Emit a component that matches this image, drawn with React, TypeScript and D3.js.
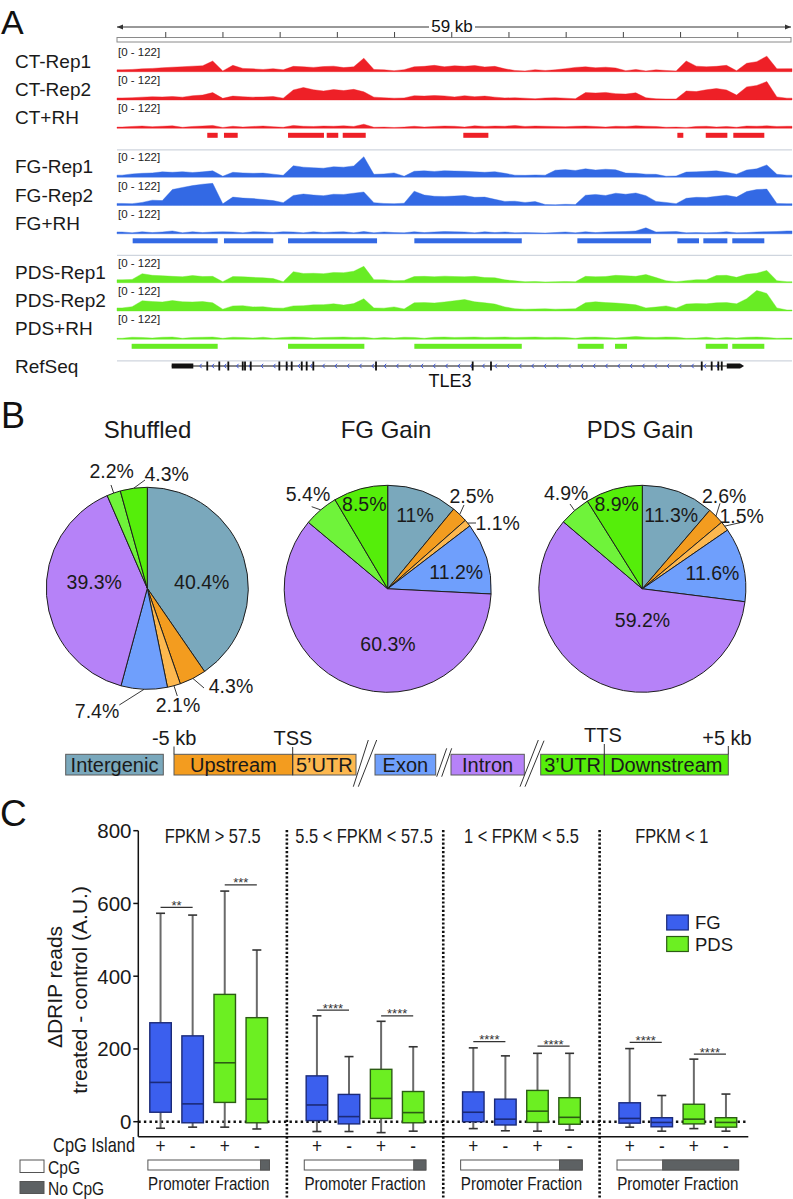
import React from "react";
import * as d3 from "d3";

const SANS = "'Liberation Sans', Arial, Helvetica, sans-serif";
const NARROW_SCALE = 0.82;

// ---------------- Panel A data ----------------
const REGION_KB = 59;
const TRACK_MAX = 122;

const ctRep1 = [9,11,14,16,19,22,24,27,29,52, 4,31,16,14,11,15,9,26,24,21, 25,27,20,24,66,11,9,5,10,24, 26,31,24,29,26,30,23,26,14,6, 4,10,6,9,15,21,24,19,22,18, 5,11,4,9,6,4,52,27,24,26, 31,5,41,49,76,14,15];
const ctRep2 = [10,11,14,16,15,17,14,21,24,36, 8,19,16,14,15,17,9,49,61,50, 44,51,46,52,40,14,11,9,10,21, 19,22,20,15,21,16,19,14,10,11, 9,6,10,11,9,6,36,34,37,31, 29,35,11,6,5,5,44,41,50,56, 49,24,64,71,90,15,9];
const ctRH = [6,9,11,8,10,12,5,9,11,14, 4,10,6,9,11,8,5,14,10,9, 11,10,12,9,20,5,6,4,6,10, 6,9,11,10,6,12,9,11,10,14, 9,11,10,9,8,10,11,9,6,10, 9,12,10,9,5,6,4,9,10,6, 9,5,11,10,12,9,10];
const fgRep1 = [10,16,19,21,26,24,27,23,26,31, 5,24,21,19,20,15,9,56,49,46, 44,51,49,55,100,14,16,21,5,29, 31,28,32,30,29,26,24,27,19,10, 9,11,10,34,37,33,41,35,39,36, 20,19,15,14,5,6,25,26,29,31, 24,15,35,41,60,14,10];
const fgRep2 = [10,9,15,26,24,78,88,97,104,108, 8,41,36,34,29,24,14,49,56,51, 48,55,54,60,66,14,10,9,11,70, 51,45,44,46,49,40,41,30,20,21, 15,19,5,4,6,5,50,54,49,60, 55,61,48,20,15,9,35,40,39,45, 50,41,68,78,80,10,9];
const fgRH = [9,5,10,6,9,14,5,10,6,9, 10,9,5,10,9,6,10,9,5,10, 6,9,10,5,11,5,9,6,5,10, 6,9,11,10,9,5,10,6,9,5, 6,5,4,6,9,5,10,6,9,10, 11,14,29,9,10,11,5,6,5,6, 10,5,6,9,10,11,14];
const pdsRep1 = [14,16,44,36,34,31,29,35,30,31, 5,30,29,26,24,20,5,54,45,46, 44,50,49,56,80,15,14,10,11,30, 31,29,32,30,29,31,25,24,14,9, 5,6,4,5,6,5,31,29,30,36, 34,31,40,25,10,5,10,15,14,35, 36,26,41,46,60,10,5];
const pdsRep2 = [15,21,50,46,44,51,45,44,46,40, 9,25,26,20,21,15,14,25,26,30, 31,35,29,36,60,15,14,20,10,40, 41,39,44,50,56,45,40,34,20,11, 9,10,11,9,10,11,40,45,41,39, 35,30,15,19,25,14,34,36,35,40, 41,35,60,100,86,15,5];
const pdsRH = [5,10,9,6,10,11,5,9,10,11, 5,10,9,6,10,5,9,11,10,6, 9,10,11,9,10,5,9,6,10,9, 5,10,11,9,10,11,9,10,11,9, 10,11,9,10,9,5,10,11,9,6, 10,14,10,9,11,10,5,6,10,5, 9,6,10,11,9,5,6];

// called peak regions (kb from left edge of the 59 kb window)
const ctPeaks = [[7.89, 8.8], [9.35, 10.55], [14.95, 18.09], [18.33, 19.34], [19.73, 21.74], [30.27, 32.46], [48.98, 49.5], [51.46, 53.35], [53.87, 56.58]];
const fgPeaks = [[1.37, 8.8], [9.35, 13.66], [14.95, 22.73], [25.99, 35.38], [40.24, 46.68], [48.98, 50.87], [51.25, 53.35], [53.78, 56.58]];
const pdsPeaks = [[1.28, 8.8], [14.95, 21.62], [25.99, 35.38], [40.27, 42.54], [43.53, 44.58], [51.46, 53.39], [53.78, 56.58]];

// TLE3 gene model (kb)
const geneSpanKb = [4.78, 54.46];
const utrKb = [[4.78, 6.67], [53.3, 54.46]];
const exonKb = [7.89, 8.94, 9.73, 10.99, 11.19, 11.69, 14.19, 14.83, 15.27, 16.15, 16.58, 17.16, 22.64, 31.09, 32.69, 51.11, 51.98, 52.56, 52.86];

const groupColors = ["#ee2027", "#3369e4", "#68ec24"];
const trackLabels = [["CT-Rep1", "CT-Rep2", "CT+RH"], ["FG-Rep1", "FG-Rep2", "FG+RH"], ["PDS-Rep1", "PDS-Rep2", "PDS+RH"]];
const trackValues = [[ctRep1, ctRep2, ctRH], [fgRep1, fgRep2, fgRH], [pdsRep1, pdsRep2, pdsRH]];
const groupPeaks = [ctPeaks, fgPeaks, pdsPeaks];

// ---------------- Panel B data ----------------
const regionNames = ["Intergenic", "Upstream", "5\u2019UTR", "Exon", "Intron", "3\u2019UTR", "Downstream"];
const regionColors = ["#7aa8bc", "#f39c1f", "#fdb84f", "#6f9ffc", "#b682f8", "#6ff33a", "#55ee0a"];
const pieTitles = ["Shuffled", "FG Gain", "PDS Gain"];
const shuffledPct = [40.4, 4.3, 2.1, 7.4, 39.3, 2.2, 4.3];
const fgGainPct = [11, 2.5, 1.1, 11.2, 60.3, 5.4, 8.5];
const pdsGainPct = [11.3, 2.6, 1.5, 11.6, 59.2, 4.9, 8.9];

// ---------------- Panel C data ----------------
const fpkmGroups = ["FPKM > 57.5", "5.5 < FPKM < 57.5", "1 < FPKM < 5.5", "FPKM < 1"];
const boxKeys = ["FG+", "FG-", "PDS+", "PDS-"];
const boxSeries = ["FG", "FG", "PDS", "PDS"];
const cpgSign = ["+", "-", "+", "-"];
// [min, q1, median, q3, max]
const boxStats = [
  [[-18, 26, 108, 272, 573], [-15, -3, 49, 236, 568], [-15, 53, 162, 350, 634], [-20, -3, 62, 286, 472]],
  [[-27, 3, 46, 126, 291], [-27, -6, 14, 75, 179], [-30, 9, 64, 144, 276], [-26, -3, 25, 83, 206]],
  [[-19, 0, 26, 82, 203], [-25, -9, 7, 62, 181], [-26, -2, 29, 86, 188], [-23, -7, 12, 66, 188]],
  [[-15, -4, 9, 52, 201], [-26, -14, -2, 11, 72], [-19, -6, 7, 48, 172], [-26, -15, -2, 11, 76]],
];
// [label, bracket height] for FG+/FG- and PDS+/PDS-
const sigFG = [["**", 589], ["****", 307], ["****", 220], ["****", 218]];
const sigPDS = [["***", 651], ["****", 291], ["****", 208], ["****", 186]];
const cpgPromoterFraction = [0.926, 0.9, 0.813, 0.375];
const yTicks = [0, 200, 400, 600, 800];
const seriesNames = ["FG", "PDS"];
const seriesFill: Record<string, string> = { FG: "#3b5fee", PDS: "#6cef22" };
const seriesStroke: Record<string, string> = { FG: "#1b2a78", PDS: "#2c5c14" };

// ---------------- layout (not data) ----------------
const pieCenters = [[147.3, 588.3], [387.7, 588.8], [642.3, 588.8]];
const pieRadii = [101, 103.5, 103.5];
const pieTitleX = [147.5, 386, 640];
// label centre offsets [dx, dy] and optional leader end [lx, ly] relative to pie centre
const pieLabelLayout: number[][][] = [
  [[54.4, -6.3], [83.7, 97.2, 56.7, 99.7], [30.7, 116.7, 30, 107.7], [-50.3, 122.7, -28, 116.7], [-53.1, -6.3], [-35.6, -117.3, -36.3, -103.3], [19.4, -114.3, -2.3, -108.3]],
  [[27.3, -73.8], [84, -93.3, 76.3, -83.8], [110, -66.3, 88.3, -65.8], [68.6, -17.3], [0.3, 55.2], [-79.7, -94.8, -76, -82.1], [-23.4, -85.3]],
  [[28.9, -73.8], [81.9, -93.3, 77.7, -85.5], [99.4, -73.3, 97.7, -66.1], [70.2, -16.3], [0.2, 31.2], [-76.1, -96.3, -72.3, -84.8], [-25.6, -84.5]],
];
const legendBoxes = [[65.7, 163.3], [174, 292.7], [292.7, 356], [375, 435.7], [451, 524.3], [540.7, 604.3], [604.3, 728.3]];

// narrow (condensed) text, as in the GraphPad-style panel C
function NText(props: { x: number; y: number; size: number; anchor?: string; children: React.ReactNode }) {
  const { x, y, size, anchor, children } = props;
  return (
    <text transform={`translate(${x},${y}) scale(${NARROW_SCALE},1)`} fontSize={size} textAnchor={anchor || "start"} fill="#1a1a1a">
      {children}
    </text>
  );
}

export default function App() {
  const W = 793, H = 1199;

  // ===== Panel A =====
  const xA = d3.scaleLinear().domain([0, REGION_KB]).range([117, 792]);
  const hA = d3.scaleLinear().domain([0, TRACK_MAX]).range([0, 25]);
  const firstBase = 71.7, groupStep = 105.5, rowStep = 28.3;
  const aEls: React.ReactNode[] = [];

  trackValues.forEach((tracks, gi) => {
    const color = groupColors[gi];
    const gBase = firstBase + gi * groupStep;
    tracks.forEach((vals, ri) => {
      const base = gBase + ri * rowStep;
      const n = vals.length;
      const bw = REGION_KB / n;
      const pts: [number, number][] = vals.map((v, i) => [xA((i + 0.5) * bw), v]);
      pts.unshift([xA(0), vals[0]]);
      pts.push([xA(REGION_KB), vals[n - 1]]);
      const area = d3.area<[number, number]>().x(d => d[0]).y0(base).y1(d => base - hA(d[1]));
      aEls.push(<path key={`tr${gi}${ri}`} d={area(pts) || ""} fill={color} stroke={color} strokeWidth={0.4} />);
      aEls.push(<text key={`rl${gi}${ri}`} x={118} y={base - 16} fontSize={11.5} fill="#222">[0 - 122]</text>);
      aEls.push(<text key={`tl${gi}${ri}`} x={15} y={base - 4} fontSize={19} fill="#1a1a1a">{trackLabels[gi][ri]}</text>);
    });
    const lastBase = gBase + 2 * rowStep;
    groupPeaks[gi].forEach(([s, e], k) => {
      aEls.push(<rect key={`pk${gi}${k}`} x={xA(s)} y={lastBase + 4.5} width={xA(e) - xA(s)} height={5} fill={color} />);
    });
    aEls.push(<line key={`sep${gi}`} x1={117} x2={792} y1={lastBase + 21.5} y2={lastBase + 21.5} stroke="#cfd5de" strokeWidth={1.2} />);
  });

  const geneY = 366;
  const chevrons = d3.range(xA(geneSpanKb[0]) + 28, xA(utrKb[1][0]) - 4, 12.3);

  // ===== Panel B =====
  const pieGen = d3.pie<number>().sort(null).value(d => d);
  const pieData = [shuffledPct, fgGainPct, pdsGainPct];

  // ===== Panel C =====
  const yC = d3.scaleLinear().domain([0, 800]).range([1121.7, 830.7]);
  const gBand = d3.scaleBand<string>().domain(fpkmGroups).range([130.5, 756]).padding(0);
  const innerBand = d3.scaleBand<string>().domain(boxKeys).range([-gBand.bandwidth() / 2 + 14, gBand.bandwidth() / 2 - 14]).padding(0);
  const boxW = 21.5;
  const gCenter = (g: string) => (gBand(g) as number) + gBand.bandwidth() / 2;
  const bx = (g: string, k: string) => gCenter(g) + (innerBand(k) as number) + innerBand.bandwidth() / 2;
  const axisLeft = 138.3, axisRight = 748.3, axisBottom = 1136.7;
  const titleNudge = [4, -1, 0, -6];

  return (
    <svg width={W} height={H} viewBox={`0 0 ${W} ${H}`} style={{ position: "absolute", left: 0, top: 0, background: "#fff" }} fontFamily={SANS}>
      <rect x={0} y={0} width={W} height={H} fill="#fff" />
      {/* ===== Panel A ===== */}
      <text x={1} y={34} fontSize={34} fill="#111">A</text>
      <line x1={xA(0)} x2={xA(REGION_KB) - 1} y1={27} y2={27} stroke="#333" strokeWidth={1} />
      <path d={`M${xA(0)},27 l6,-2.5 l0,5 z`} fill="#333" />
      <path d={`M${xA(REGION_KB) - 1},27 l-6,-2.5 l0,5 z`} fill="#333" />
      <rect x={429} y={17} width={46} height={17} fill="#fff" />
      <text x={452} y={32} fontSize={17} textAnchor="middle" fill="#111">59 kb</text>
      <rect x={xA(0)} y={37.5} width={xA(REGION_KB) - xA(0) - 1} height={4.5} fill="#fff" stroke="#8a8a8a" strokeWidth={1} />
      {d3.range(4.26, REGION_KB, 5).map((k, i) => (
        <line key={`rt${i}`} x1={xA(k)} x2={xA(k)} y1={32} y2={37.5} stroke="#444" strokeWidth={1} />
      ))}
      {aEls}
      <text x={15} y={373} fontSize={19} fill="#1a1a1a">RefSeq</text>
      <line x1={xA(geneSpanKb[0])} x2={xA(geneSpanKb[1])} y1={geneY} y2={geneY} stroke="#111" strokeWidth={1} />
      {chevrons.map((cx, i) => (
        <path key={`ch${i}`} d={`M${cx + 2},${geneY - 2.2} L${cx},${geneY} L${cx + 2},${geneY + 2.2}`} fill="none" stroke="#3a55d8" strokeWidth={1} />
      ))}
      {utrKb.map(([s, e], i) => (
        <rect key={`utr${i}`} x={xA(s)} y={geneY - 2.5} width={xA(e) - xA(s)} height={5} fill="#111" />
      ))}
      {exonKb.map((k, i) => (
        <rect key={`ex${i}`} x={xA(k) - 0.9} y={geneY - 4.5} width={1.8} height={9} fill="#111" />
      ))}
      <path d={`M${xA(geneSpanKb[1])},${geneY - 2.5} l4,2.5 l-4,2.5 z`} fill="#111" />
      <text x={450} y={387} fontSize={18} textAnchor="middle" fill="#111">TLE3</text>

      {/* ===== Panel B ===== */}
      <text x={1} y={428} fontSize={36} fill="#111">B</text>
      {pieData.map((vals, p) => {
        const [cx, cy] = pieCenters[p];
        const r = pieRadii[p];
        const arcs = pieGen(vals);
        const arcGen = d3.arc<d3.PieArcDatum<number>>().innerRadius(0).outerRadius(r);
        return (
          <g key={`pie${p}`}>
            <text x={pieTitleX[p]} y={438} fontSize={24} textAnchor="middle" fill="#1a1a1a">{pieTitles[p]}</text>
            <g transform={`translate(${cx},${cy})`}>
              {arcs.map((a, i) => (
                <path key={i} d={arcGen(a) || ""} fill={regionColors[i]} stroke="#1e1e1e" strokeWidth={1} />
              ))}
              {arcs.map((a, i) => {
                const lay = pieLabelLayout[p][i];
                const m = (a.startAngle + a.endAngle) / 2;
                return (
                  <g key={`l${i}`}>
                    {lay.length > 2 && (
                      <line x1={r * Math.sin(m)} y1={-r * Math.cos(m)} x2={lay[2]} y2={lay[3]} stroke="#222" strokeWidth={0.9} />
                    )}
                    <text x={lay[0]} y={lay[1]} dy="0.36em" fontSize={19.5} textAnchor="middle" fill="#1a1a1a">{`${vals[i]}%`}</text>
                  </g>
                );
              })}
            </g>
          </g>
        );
      })}
      {/* region legend */}
      {legendBoxes.map(([x0, x1], i) => (
        <g key={`lg${i}`}>
          <rect x={x0} y={754.3} width={x1 - x0} height={20.7} fill={i >= 5 ? regionColors[6] : regionColors[i]} stroke="#5a5a5a" strokeWidth={1} />
          <text x={(x0 + x1) / 2} y={771.5} fontSize={20} textAnchor="middle" fill="#1a1a1a">{regionNames[i]}</text>
        </g>
      ))}
      <line x1={174} x2={174} y1={746.5} y2={754.3} stroke="#333" strokeWidth={1} />
      <text x={174.2} y={745} fontSize={20} textAnchor="middle" fill="#1a1a1a">-5 kb</text>
      <line x1={292.7} x2={292.7} y1={747} y2={775} stroke="#333" strokeWidth={1} />
      <text x={293} y={745} fontSize={20} textAnchor="middle" fill="#1a1a1a">TSS</text>
      <line x1={604.3} x2={604.3} y1={744} y2={775} stroke="#333" strokeWidth={1} />
      <text x={603} y={742} fontSize={20} textAnchor="middle" fill="#1a1a1a">TTS</text>
      <line x1={728.3} x2={728.3} y1={746} y2={754.3} stroke="#333" strokeWidth={1} />
      <text x={727} y={745} fontSize={20} textAnchor="middle" fill="#1a1a1a">+5 kb</text>
      {[[353.3, 786.7, 368.3, 740], [358.3, 786.7, 376.7, 740], [436.7, 776.7, 446.7, 748.3], [441.7, 776.7, 451.7, 748.3], [520, 786.7, 538.3, 740], [525, 786.7, 544, 740.7]].map((l, i) => (
        <line key={`br${i}`} x1={l[0]} y1={l[1]} x2={l[2]} y2={l[3]} stroke="#333" strokeWidth={1} />
      ))}

      {/* ===== Panel C ===== */}
      <text x={0} y={826} fontSize={37} fill="#111">C</text>
      {/* axes */}
      <line x1={axisLeft} x2={axisLeft} y1={yC(800)} y2={axisBottom} stroke="#111" strokeWidth={1.5} />
      <line x1={axisLeft} x2={axisRight} y1={axisBottom} y2={axisBottom} stroke="#111" strokeWidth={1.5} />
      {yTicks.map(t => (
        <g key={`yt${t}`}>
          <line x1={axisLeft - 5} x2={axisLeft} y1={yC(t)} y2={yC(t)} stroke="#111" strokeWidth={1.5} />
          <text x={131.5} y={yC(t)} dy="0.36em" fontSize={20.5} textAnchor="end" fill="#1a1a1a">{t}</text>
        </g>
      ))}
      <text transform={`translate(62,987) rotate(-90)`} fontSize={21} textAnchor="middle" fill="#1a1a1a">ΔDRIP reads</text>
      <text transform={`translate(87,990) rotate(-90)`} fontSize={21} textAnchor="middle" fill="#1a1a1a">treated - control (A.U.)</text>
      {/* zero line */}
      <line x1={axisLeft} x2={axisRight} y1={yC(0)} y2={yC(0)} stroke="#111" strokeWidth={2.6} strokeDasharray="2.4,3.2" />
      {/* group separators */}
      {fpkmGroups.slice(1).map((g, i) => (
        <line key={`gs${i}`} x1={gBand(g) as number} x2={gBand(g) as number} y1={830} y2={H} stroke="#111" strokeWidth={2.6} strokeDasharray="2.2,2" />
      ))}
      {fpkmGroups.map((g, gi) => (
        <g key={`grp${gi}`}>
          <NText x={gCenter(g) + titleNudge[gi]} y={843} size={20} anchor="middle">{g}</NText>
          {boxKeys.map((k, ki) => {
            const [mn, q1, md, q3, mx] = boxStats[gi][ki];
            const cx = bx(g, k);
            const s = boxSeries[ki];
            return (
              <g key={`bx${ki}`}>
                <line x1={cx} x2={cx} y1={yC(mx)} y2={yC(q3)} stroke="#6a6a6a" strokeWidth={2} />
                <line x1={cx} x2={cx} y1={yC(q1)} y2={yC(mn)} stroke="#6a6a6a" strokeWidth={2} />
                <line x1={cx - 4.5} x2={cx + 4.5} y1={yC(mx)} y2={yC(mx)} stroke="#333" strokeWidth={1.6} />
                <line x1={cx - 4.5} x2={cx + 4.5} y1={yC(mn)} y2={yC(mn)} stroke="#333" strokeWidth={1.6} />
                <rect x={cx - boxW / 2} y={yC(q3)} width={boxW} height={yC(q1) - yC(q3)} fill={seriesFill[s]} stroke={seriesStroke[s]} strokeWidth={1.4} />
                <line x1={cx - boxW / 2} x2={cx + boxW / 2} y1={yC(md)} y2={yC(md)} stroke={seriesStroke[s]} strokeWidth={1.6} />
                <NText x={cx} y={1153} size={21} anchor="middle">{cpgSign[ki]}</NText>
              </g>
            );
          })}
          {[[sigFG[gi], boxKeys[0], boxKeys[1]], [sigPDS[gi], boxKeys[2], boxKeys[3]]].map(([sig, a, b], si) => {
            const [lab, hv] = sig as [string, number];
            const x1 = bx(g, a as string), x2 = bx(g, b as string);
            return (
              <g key={`sig${si}`}>
                <line x1={x1} x2={x2} y1={yC(hv)} y2={yC(hv)} stroke="#333" strokeWidth={1.2} />
                <text x={(x1 + x2) / 2} y={yC(hv) + 2.5} fontSize={13} textAnchor="middle" fill="#333">{lab}</text>
              </g>
            );
          })}
          {/* promoter fraction bar */}
          <rect x={gCenter(g) - 60.8} y={1160} width={121.6} height={10} fill="#fff" stroke="#555" strokeWidth={1} />
          <rect x={gCenter(g) - 60.8 + 121.6 * cpgPromoterFraction[gi]} y={1160} width={121.6 * (1 - cpgPromoterFraction[gi])} height={10} fill="#5d6163" stroke="#555" strokeWidth={1} />
          <NText x={gCenter(g)} y={1190} size={18.5} anchor="middle">Promoter Fraction</NText>
        </g>
      ))}
      <NText x={135} y={1152} size={20} anchor="end">CpG Island</NText>
      <rect x={20} y={1160} width={24} height={12.5} fill="#fff" stroke="#555" strokeWidth={1} />
      <NText x={48} y={1174} size={19}>CpG</NText>
      <rect x={20} y={1181.5} width={24} height={12} fill="#5d6163" stroke="#555" strokeWidth={1} />
      <NText x={48} y={1195} size={19}>No CpG</NText>
      {/* series legend */}
      {seriesNames.map((s, i) => (
        <g key={`sl${i}`}>
          <rect x={666.7} y={915 + i * 21.5} width={21.6} height={15} fill={seriesFill[s]} stroke={seriesStroke[s]} strokeWidth={1.2} />
          <text x={695} y={929 + i * 21.5} fontSize={18.5} fill="#1a1a1a">{s}</text>
        </g>
      ))}
    </svg>
  );
}
